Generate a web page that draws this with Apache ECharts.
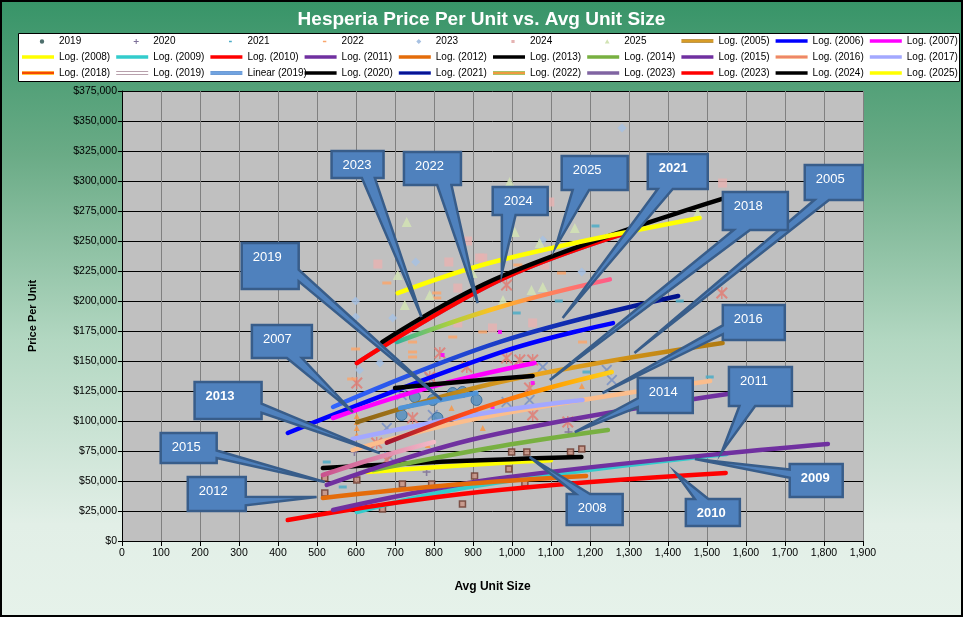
<!DOCTYPE html>
<html><head><meta charset="utf-8">
<script src="https://cdn.jsdelivr.net/npm/echarts@6/dist/echarts.min.js"></script>
<style>html,body{margin:0;padding:0;background:#fff}#c{width:963px;height:617px}</style>
</head><body><div id="c"></div>
<script>
// ---------------- DATA ----------------
const xTickValues = [0, 1900, 100];            // min, max, step of Avg Unit Size axis
const yTickValues = [0, 375000, 25000];        // min, max, step of Price Per Unit axis

// scatter points [avg unit size, price per unit]
const pts2019 = [[717,105000],[751,120000],[797,117500],[848,123300],[909,117500],[873,124200],[899,105000],[809,102500]];
const pts2020 = [[1145,90800],[781,57500],[596,74200]];
const pts2021 = [[1214,262500],[1012,190000],[1120,200000],[1430,200000],[1191,140800],[1507,136700],[525,65800],[566,45000]];
const pts2022 = [[679,215000],[807,206700],[807,202500],[599,160000],[589,135000],[745,165800],[745,157500],[745,153300],[848,170000],[925,174200],[1015,230000],[1127,223300],[1181,165800]];
const pts2023 = [[599,200000],[753,232500],[599,186700],[694,185800],[1282,344200],[1079,250800],[1179,224200],[609,142500],[661,148300]];
const pts2024 = [[656,230800],[838,232500],[886,250000],[925,235800],[861,210800],[1540,298300],[1097,282500],[917,235800],[1084,230000],[950,177500],[1053,181700],[861,181700]];
const pts2025 = [[730,265800],[707,221700],[725,196700],[789,205000],[899,223300],[994,299200],[1007,257500],[1161,260800],[1071,248300],[1050,209200],[1079,211700],[977,200800],[1476,273300]];
// older years' points (no legend entry in the reference)
const ptsOldX = [[679,94200],[797,105000],[789,135800],[717,121700],[686,70000],[1079,145000],[1243,142500],[1256,134200],[986,115800],[1045,117500]];
const ptsOldStar = [[602,131700],[653,81700],[745,102500],[815,156700],[789,136700],[884,145000],[679,67500],[986,152500],[1020,150800],[1053,150800],[1143,99200],[1053,105000],[1045,127500],[1538,206700],[986,213300]];
const ptsOldTri = [[602,104200],[602,99200],[602,94200],[602,88300],[784,80000],[845,110800],[1179,129200],[925,94200]];
const ptsOldMag = [[822,155000],[969,174200],[1053,131700],[950,111700]];
const ptsOldSq = [[999,74200],[1038,74200],[1150,74200],[1179,76700],[992,60000],[1033,48300],[520,52500],[520,40000],[719,47500],[794,47500],[904,54200],[873,30800],[668,26700],[602,50800]];

// trendlines: points (start, middle, end)
const log2005 = [[603,99000],[969,132500],[1540,165000]];
const log2006 = [[425,90000],[969,157000],[1259,181600]];
const log2007 = [[541,102500],[800,129000],[1058,148300]];
const log2008 = [[628,57500],[969,65000],[1100,67200]];
const log2009 = [[602,24200],[917,46500],[1550,72500]];
const log2010 = [[425,17500],[917,40800],[1548,56700]];
const log2011 = [[541,25800],[969,52300],[1810,80800]];
const log2012 = [[515,35800],[850,46800],[1190,54200]];
const log2013 = [[515,60800],[850,66400],[1178,70000]];
const log2014 = [[644,59200],[969,79000],[1246,92500]];
const log2015 = [[525,46700],[917,86000],[1553,122500]];
const log2016 = [[591,75800],[917,102500],[1508,133300]];
const log2017 = [[591,85000],[917,105800],[1181,117500]];
const log2018 = [[679,82000],[969,115800],[1256,140800]];
const log2019 = [[515,55000],[660,70000],[800,82500]];
const lin2019 = [[713,110800],[909,123300]];
const log2020 = [[700,127500],[880,133000],[1053,137500]];
const log2021 = [[541,111700],[969,166000],[1426,204200]];
const log2022 = [[704,165800],[969,195000],[1251,218000]];
const log2023a = [[602,148300],[969,217500],[1284,255800]];
const log2023b = [[602,148300],[969,217500],[1284,255800]];
const log2024 = [[667,165800],[969,220000],[1545,285800]];
const log2025 = [[707,206600],[969,234000],[1481,269200]];

// callouts: label, box centre and pointer tip in data units
const calloutLabels = ['2023','2022','2019','2024','2025','2021','2005','2018','2016','2014','2011','2009','2010','2008','2007','2013','2015','2012'];
const calloutBox = [[604,313700],[796,310400],[380,229200],[1021,283300],[1212,306700],[1425,307900],[1825,298700],[1624,275000],[1620,182100],[1393,121300],[1637,128700],[1780,50400],[1515,23750],[1212,26250],[410,166250],[272,117100],[171,77500],[243,39200]];
const calloutTip = [[768,186700],[912,198300],[820,117500],[974,223300],[1112,245000],[1130,185800],[1314,156700],[1097,134200],[1232,123300],[1161,90800],[1538,74200],[1469,68300],[1420,56700],[1045,70000],[592,107500],[661,73300],[520,49200],[499,36700]];

// legend entries in reading order (10 per row)
const legendNames = ['2019','2020','2021','2022','2023','2024','2025',
  'Log. (2005)','Log. (2006)','Log. (2007)','Log. (2008)','Log. (2009)','Log. (2010)','Log. (2011)','Log. (2012)',
  'Log. (2013)','Log. (2014)','Log. (2015)','Log. (2016)','Log. (2017)','Log. (2018)','Log. (2019)','Linear (2019)',
  'Log. (2020)','Log. (2021)','Log. (2022)','Log. (2023)','Log. (2023)\u200b','Log. (2024)','Log. (2025)'];

// ---------------- PRESENTATION ----------------
const calloutSize = {'2023':[52,27],'2022':[57,33],'2019':[57,46],'2024':[55,28],'2025':[66,34],'2021':[60,35],'2005':[58,35],'2018':[65,38],'2016':[62,35],'2014':[55,35],'2011':[63,39],'2009':[53,33],'2010':[54,27],'2008':[56,31],'2007':[60,33],'2013':[67,37],'2015':[56,30],'2012':[58,34]};
const calloutBold = {'2021':1,'2013':1,'2009':1,'2010':1};

const SANS = '"Liberation Sans",Arial,sans-serif';
const PLUS = 'path://M4,0h2v10h-2zM0,4h10v2h-10z';
const XMARK = 'path://M0,1.2L1.2,0L10,8.8L8.8,10zM8.8,0L10,1.2L1.2,10L0,8.8z';
const STAR = 'path://M4.4,0h1.2v10h-1.2zM0,1.2L1.2,0L10,8.8L8.8,10zM8.8,0L10,1.2L1.2,10L0,8.8z';
const PAD = 'M0,0h0.01v0.01h-0.01zM31.99,10.99h0.01v0.01h-0.01z';
const LINE_ICON = 'path://M0,0h32v3.5h-32z';
const legIcon = {
  '2019':'path://'+PAD+'M17.8,5.5a2.2,2.2 0 1,0 4.4,0a2.2,2.2 0 1,0 -4.4,0z',
  '2020':'path://'+PAD+'M19.5,3h1v5h-1zM17.5,5h5v1h-5z',
  '2021':'path://'+PAD+'M18.6,4.8h2.8v1.4h-2.8z',
  '2022':'path://'+PAD+'M18.3,4.8h3.4v1.4h-3.4z',
  '2023':'path://'+PAD+'M20,3L22.5,5.5L20,8L17.5,5.5z',
  '2024':'path://'+PAD+'M18.4,3.9h3.2v3.2h-3.2z',
  '2025':'path://'+PAD+'M20,3.2L22.4,7.6L17.6,7.6z'
};
function hgrad(stops){return {type:'linear',x:0,y:0,x2:1,y2:0,colorStops:stops.map(s=>({offset:s[0],color:s[1]}))};}
function vgrad(stops){return {type:'linear',x:0,y:0,x2:0,y2:1,colorStops:stops.map(s=>({offset:s[0],color:s[1]}))};}
const legendStripe = {
  'Log. (2005)': vgrad([[0,'#9a6a10'],[0.5,'#f0b030'],[1,'#9a6a10']]),
  'Log. (2016)': vgrad([[0,'#f6a878'],[0.3,'#f6a878'],[0.45,'#e05050'],[0.55,'#e05050'],[0.7,'#f6a878'],[1,'#f6a878']]),
  'Log. (2018)': vgrad([[0,'#ff9900'],[0.3,'#ff6600'],[0.5,'#e00000'],[0.7,'#ff6600'],[1,'#ffcc00']]),
  'Log. (2019)': vgrad([[0,'#a08090'],[0.3,'#a08090'],[0.35,'#ffffff'],[0.65,'#ffffff'],[0.7,'#a08090'],[1,'#a08090']]),
  'Log. (2021)': vgrad([[0,'#2040c0'],[0.5,'#000080'],[1,'#2040c0']]),
  'Log. (2022)': vgrad([[0,'#70b030'],[0.35,'#f0a040'],[0.5,'#e03030'],[0.65,'#f0a040'],[1,'#70b030']]),
  'Linear (2019)': vgrad([[0,'#3070c0'],[0.5,'#8ab8ee'],[1,'#3070c0']])
};

const series = [];
function scat(name, data, symbol, size, color, extra){
  series.push(Object.assign({name, type:'scatter', data, symbol, symbolSize:size, z:2,
    itemStyle:{color, opacity:0.85}, emphasis:{disabled:true}}, extra||{}));
}
scat('old-x', ptsOldX, XMARK, 11, '#7891c4');
scat('old-star', ptsOldStar, STAR, 12, '#e07c74');
scat('old-tri', ptsOldTri, 'triangle', 6, '#f79646');
scat('old-mag', ptsOldMag, 'rect', 4, '#ff00ff');
scat('old-sq', ptsOldSq, 'rect', 6, '#8a5446', {itemStyle:{color:'#c89080', borderColor:'#6b3a2e', borderWidth:1.5}});
scat('2019', pts2019, 'circle', 11, '#4f8cbf', {itemStyle:{color:'#4f8cbf', borderColor:'#2f6592', borderWidth:1}});
scat('2020', pts2020, PLUS, 8, '#7c6f98');
scat('2021', pts2021, 'rect', [8,3], '#4bacc6');
scat('2022', pts2022, 'rect', [9,3], '#f9a66c');
scat('2023', pts2023, 'diamond', 9, '#a7c1e2');
scat('2024', pts2024, 'rect', 9, '#e5b3b2');
scat('2025', pts2025, 'triangle', 10, '#d2e3b4');

function trend(name, data, color, width){
  series.push({name, type:'line', data, smooth:0.4, symbol:'none', showSymbol:false, z:3,
    lineStyle:{color, width:width||4.5, cap:'round'}, itemStyle:{color}, emphasis:{disabled:true}});
}
trend('Log. (2005)', log2005, hgrad([[0,'#8c6414'],[0.5,'#eaa51f'],[1,'#b07a10']]));
trend('Log. (2006)', log2006, '#0000ff');
trend('Log. (2007)', log2007, '#ff00ff');
trend('Log. (2008)', log2008, '#ffff00');
trend('Log. (2009)', log2009, '#33cccc');
trend('Log. (2010)', log2010, '#ff0000');
trend('Log. (2011)', log2011, '#7030a0');
trend('Log. (2012)', log2012, '#e46c0a');
trend('Log. (2013)', log2013, '#000000');
trend('Log. (2014)', log2014, '#78b041');
trend('Log. (2015)', log2015, '#7030a0');
trend('Log. (2016)', log2016, '#fbbd8c');
trend('Log. (2017)', log2017, '#a3a8ff');
trend('Log. (2018)', log2018, hgrad([[0,'#9c1030'],[0.35,'#ff4a1a'],[0.7,'#ff9a00'],[1,'#ffd21a']]));
trend('Log. (2019)', log2019, hgrad([[0,'#c84f8c'],[1,'#f4bcc8']]));
trend('Linear (2019)', lin2019, '#4f94d8');
trend('Log. (2020)', log2020, '#000000');
trend('Log. (2021)', log2021, hgrad([[0,'#3366ff'],[1,'#00108a']]));
trend('Log. (2022)', log2022, hgrad([[0,'#2fb0a0'],[0.25,'#a8d040'],[0.45,'#ffc020'],[0.65,'#ff8a50'],[1,'#ff5a8a']]));
trend('Log. (2023)', log2023a, '#8064a2');
trend('Log. (2023)\u200b', log2023b, '#ff0000');
trend('Log. (2024)', log2024, '#000000');
trend('Log. (2025)', log2025, '#ffff00');

series.push({
  type:'custom', coordinateSystem:'cartesian2d', z:10, clip:false, silent:true,
  data: calloutLabels.map((t,i)=>[calloutBox[i][0],calloutBox[i][1],calloutTip[i][0],calloutTip[i][1]]),
  encode:{x:[0,2], y:[1,3]},
  renderItem(params, api){
    const c = api.coord([api.value(0), api.value(1)]);
    const t = api.coord([api.value(2), api.value(3)]);
    const lab = calloutLabels[params.dataIndex];
    const sz = calloutSize[lab] || [58,34];
    const w = sz[0], h = sz[1];
    const l=c[0]-w/2, r=c[0]+w/2, tp=c[1]-h/2, b=c[1]+h/2;
    const dx=(t[0]-c[0])/w, dy=(t[1]-c[1])/h;
    let pts;
    if (Math.abs(dy) >= Math.abs(dx)) {
      const f = t[0] < c[0] ? [2/12,5/12] : [7/12,10/12];
      const x1 = l+w*f[0], x2 = l+w*f[1];
      if (dy > 0) pts = [[l,tp],[r,tp],[r,b],[x2,b],t,[x1,b],[l,b]];
      else pts = [[l,tp],[x1,tp],t,[x2,tp],[r,tp],[r,b],[l,b]];
    } else {
      const f = t[1] < c[1] ? [2/12,5/12] : [7/12,10/12];
      const y1 = tp+h*f[0], y2 = tp+h*f[1];
      if (dx > 0) pts = [[l,tp],[r,tp],[r,y1],t,[r,y2],[r,b],[l,b]];
      else pts = [[l,tp],[r,tp],[r,b],[l,b],[l,y2],t,[l,y1]];
    }
    return {type:'group', children:[
      {type:'polygon', shape:{points:pts}, style:{fill:'#4f81bd', stroke:'#385d8a', lineWidth:2.5, lineJoin:'miter'}},
      {type:'text', style:{x:l+11, y:tp+14, text:lab, fill:'#ffffff', verticalAlign:'middle',
        font:(calloutBold[lab]?'bold ':'')+'13px '+SANS}}
    ]};
  }
});

// one legend component per entry, laid out on a 10-column grid inside a framed white box
const legends = legendNames.map((n, i) => {
  let item;
  if (legIcon[n]) {
    item = {name:n, icon:legIcon[n], itemStyle:{borderWidth:0, opacity:1}};
    if (n === '2019') item.itemStyle.color = '#4e6f6c';
  } else {
    item = {name:n, icon:LINE_ICON};
    if (legendStripe[n]) item.itemStyle = {color:legendStripe[n]};
  }
  return {left: 22 + (i % 10) * 94.2, top: 36 + Math.floor(i / 10) * 16, padding:0,
    itemWidth:32, itemHeight:11, itemGap:0, selectedMode:false, symbolKeepAspect:true, z:6,
    textStyle:{fontFamily:SANS, fontSize:10, color:'#000'}, data:[item]};
});

const fmtMoney = v => '$' + v.toLocaleString('en-US');
const fmtNum = v => v.toLocaleString('en-US');

const chart = echarts.init(document.getElementById('c'), null, {renderer:'canvas'});
chart.setOption({
  animation:false,
  backgroundColor:{type:'linear',x:0,y:0,x2:0,y2:1,colorStops:[
    {offset:0,color:'#379468'},{offset:0.25,color:'#6aab86'},{offset:0.55,color:'#b2d7c1'},{offset:0.85,color:'#e2efe7'},{offset:1,color:'#e6f2ea'}]},
  title:{text:'Hesperia Price Per Unit vs. Avg Unit Size', left:'center', top:5,
    textStyle:{color:'#ffffff', fontSize:19, fontWeight:'bold', fontFamily:SANS}},
  legend: legends,
  grid:{left:122, right:100, top:91, bottom:76, show:true, backgroundColor:'#c0c0c0', borderWidth:0, containLabel:false},
  xAxis:{type:'value', min:xTickValues[0], max:xTickValues[1], interval:xTickValues[2],
    name:'Avg Unit Size', nameLocation:'middle', nameGap:40,
    nameTextStyle:{fontFamily:SANS, fontSize:12, fontWeight:'bold', color:'#000'},
    axisLine:{show:true, lineStyle:{color:'#000', width:1}},
    axisTick:{show:true, length:5, lineStyle:{color:'#000'}},
    splitLine:{show:true, lineStyle:{color:'#808080', width:1}},
    axisLabel:{formatter:fmtNum, fontFamily:SANS, fontSize:10.5, color:'#000', margin:7}},
  yAxis:{type:'value', min:yTickValues[0], max:yTickValues[1], interval:yTickValues[2],
    name:'Price Per Unit', nameLocation:'middle', nameGap:84, nameRotate:90,
    nameTextStyle:{fontFamily:SANS, fontSize:11, fontWeight:'bold', color:'#000'},
    axisLine:{show:true, lineStyle:{color:'#000', width:1}},
    axisTick:{show:true, length:4, lineStyle:{color:'#000'}},
    splitLine:{show:true, lineStyle:{color:'#000', width:1}},
    axisLabel:{formatter:fmtMoney, fontFamily:SANS, fontSize:10.5, color:'#000', margin:5}},
  graphic:[
    {type:'rect', z:1, silent:true, shape:{x:18.5,y:33.5,width:941,height:48},
      style:{fill:'#ffffff', stroke:'#000', lineWidth:1}},
    {type:'rect', z:100, silent:true, shape:{x:1,y:1,width:961,height:615},
      style:{fill:null, stroke:'#000', lineWidth:2}}],
  series
});
</script></body></html>
